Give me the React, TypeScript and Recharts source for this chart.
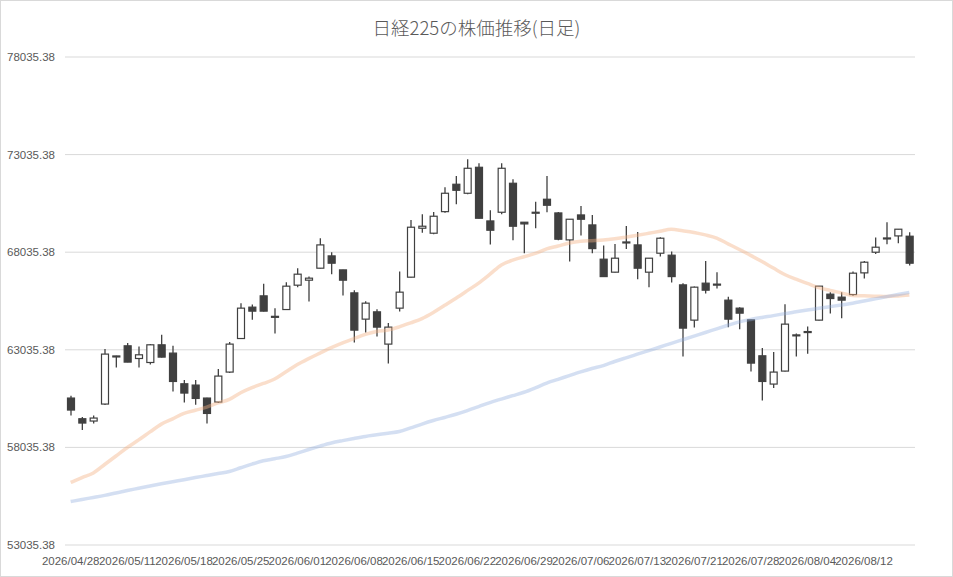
import { ComposedChart, Bar, Line, XAxis, YAxis, CartesianGrid } from 'recharts';

const dates = [
  '2026/04/28', '2026/04/30', '2026/05/01', '2026/05/07', '2026/05/08',
  '2026/05/11', '2026/05/12', '2026/05/13', '2026/05/14', '2026/05/15',
  '2026/05/18', '2026/05/19', '2026/05/20', '2026/05/21', '2026/05/22',
  '2026/05/25', '2026/05/26', '2026/05/27', '2026/05/28', '2026/05/29',
  '2026/06/01', '2026/06/02', '2026/06/03', '2026/06/04', '2026/06/05',
  '2026/06/08', '2026/06/09', '2026/06/10', '2026/06/11', '2026/06/12',
  '2026/06/15', '2026/06/16', '2026/06/17', '2026/06/18', '2026/06/19',
  '2026/06/22', '2026/06/23', '2026/06/24', '2026/06/25', '2026/06/26',
  '2026/06/29', '2026/06/30', '2026/07/01', '2026/07/02', '2026/07/03',
  '2026/07/06', '2026/07/07', '2026/07/08', '2026/07/09', '2026/07/10',
  '2026/07/13', '2026/07/14', '2026/07/15', '2026/07/16', '2026/07/17',
  '2026/07/21', '2026/07/22', '2026/07/23', '2026/07/24', '2026/07/27',
  '2026/07/28', '2026/07/29', '2026/07/30', '2026/07/31', '2026/08/03',
  '2026/08/04', '2026/08/05', '2026/08/06', '2026/08/07', '2026/08/10',
  '2026/08/12', '2026/08/13', '2026/08/14', '2026/08/17', '2026/08/18',
];

const opens = [
  60563, 59504, 59386, 60256, 62720, 63240, 62590, 62385, 63291, 62866,
  61295, 61228, 60563, 60358, 61894, 63613, 65220, 65799, 64750, 65098,
  66346, 66602, 67216, 67846, 67129, 65952, 64606, 64980, 63327, 65169,
  66756, 69264, 69008, 70113, 71516, 71055, 72386, 69637, 70082, 71567,
  69571, 70062, 70748, 70047, 68665, 69944, 69433, 67677, 67012, 68530,
  68409, 67012, 67984, 67882, 66362, 64555, 66449, 66400, 65579, 65169,
  64570, 62728, 61280, 61945, 63770, 63940, 64555, 65886, 65732, 65865,
  66976, 68035, 68740, 68870, 68854,
];

const highs = [
  60681, 59591, 59672, 63071, 62728, 63378, 63204, 63327, 63803, 63240,
  61484, 61484, 60580, 62047, 63429, 65425, 65353, 66413, 65169, 66500,
  67216, 66787, 68752, 68035, 67140, 66090, 65527, 65118, 64402, 67042,
  69688, 69980, 70098, 71362, 71940, 72795, 72590, 70185, 72590, 71771,
  69580, 70625, 71940, 70098, 69730, 70405, 69944, 68373, 68460, 69381,
  69074, 67740, 68803, 68066, 66449, 66275, 67590, 67012, 65748, 65220,
  64580, 63122, 62917, 65374, 63869, 64228, 66310, 65988, 65988, 67042,
  67590, 68783, 69571, 69220, 69059,
];

const lows = [
  59672, 58925, 59263, 60205, 62129, 62400, 62129, 62283, 62640, 60901,
  60338, 60220, 59263, 60307, 61842, 63583, 64570, 65000, 63869, 65090,
  66244, 65507, 67200, 66909, 65814, 63409, 63920, 63716, 62334, 64995,
  66740, 69038, 68957, 70062, 70492, 71004, 69760, 68424, 69980, 68649,
  67984, 69264, 70082, 68649, 67554, 68885, 67984, 66780, 67000, 68204,
  66653, 66244, 67810, 66479, 62692, 64176, 65916, 66172, 64197, 64094,
  61924, 60440, 61075, 61930, 62692, 62830, 64540, 64893, 64657, 65799,
  66684, 67948, 68444, 68496, 67349,
];

const closes = [
  59949, 59283, 59539, 62815, 62690, 62405, 62779, 63291, 62661, 61413,
  60819, 60543, 59775, 61689, 63327, 65169, 65016, 65016, 64730, 66295,
  66909, 66705, 68409, 67472, 66602, 64043, 65425, 64197, 64197, 65988,
  69315, 69366, 69878, 71055, 71208, 72335, 69775, 69161, 72335, 69366,
  69484, 70082, 70441, 68701, 69724, 69724, 68220, 66786, 67728, 68560,
  67216, 67728, 68752, 66786, 64146, 66244, 66090, 66370, 64606, 64913,
  62354, 61413, 61894, 64350, 63800, 63970, 66295, 65661, 65579, 66961,
  67523, 68291, 68765, 69213, 67472,
];

const ma25 = [
  56238, 56484, 56725, 57160, 57595, 58030, 58419, 58828, 59227, 59498,
  59780, 59939, 60102, 60312, 60491, 60834, 61095, 61310, 61541, 61909,
  62278, 62585, 62866, 63142, 63388, 63613, 63823, 63972, 64048, 64212,
  64417, 64637, 64949, 65313, 65681, 66065, 66454, 66909, 67385, 67631,
  67800, 67974, 68204, 68353, 68511, 68598, 68624, 68655, 68721, 68808,
  68900, 69003, 69110, 69207, 69136, 69049, 68921, 68757, 68465, 68173,
  67872, 67554, 67222, 66894, 66653, 66438, 66224, 66080, 65952, 65819,
  65799, 65783, 65763, 65794, 65845,
];

const ma75 = [
  55261, 55368, 55471, 55578, 55701, 55824, 55941, 56059, 56172, 56279,
  56382, 56489, 56591, 56694, 56801, 56991, 57180, 57349, 57456, 57569,
  57743, 57927, 58101, 58260, 58383, 58495, 58598, 58680, 58761, 58848,
  59038, 59232, 59411, 59570, 59734, 59923, 60128, 60333, 60512, 60686,
  60860, 61085, 61331, 61520, 61715, 61904, 62078, 62226, 62436, 62626,
  62810, 62994, 63178, 63368, 63552, 63736, 63920, 64110, 64294, 64468,
  64591, 64693, 64785, 64888, 64980, 65072, 65159, 65246, 65333, 65420,
  65533, 65645, 65758, 65870, 65978,
];

const yTicks = [53035.38, 58035.38, 63035.38, 68035.38, 73035.38, 78035.38];

const data = dates.map((date, i) => ({
  date,
  open: opens[i],
  high: highs[i],
  low: lows[i],
  close: closes[i],
  ma25: ma25[i],
  ma75: ma75[i],
}));

const INK = '#404040';

const Candle = (props: any) => {
  const { x, y, width, height, payload } = props;
  const top = Math.min(y, y + height);
  const bottom = Math.max(y, y + height);
  const span = payload.high - payload.low || 1;
  const toPx = (v: number) => top + ((payload.high - v) / span) * (bottom - top);
  const cx = x + width / 2;
  const yo = toPx(payload.open);
  const yc = toPx(payload.close);
  const up = payload.close >= payload.open;
  const bodyTop = Math.min(yo, yc);
  const bodyH = Math.max(Math.abs(yo - yc), 1);
  return (
    <g>
      <line x1={cx} x2={cx} y1={top} y2={bottom} stroke={INK} strokeWidth={1.3} />
      <rect
        x={x + 0.5}
        y={bodyTop}
        width={width - 1}
        height={bodyH}
        fill={up ? '#ffffff' : INK}
        stroke={INK}
        strokeWidth={1.2}
      />
    </g>
  );
};

const tickStyle = { fontSize: 11.5, fill: '#595959', fontFamily: '"Liberation Sans", Arial, sans-serif' };

export default function App() {
  return (
    <div style={{ position: 'fixed', left: 0, top: 0, width: 953, height: 577, background: '#fff' }}>
      <div
        style={{
          position: 'absolute',
          top: 14,
          left: 0,
          width: 953,
          textAlign: 'center',
          fontSize: 18.5,
          fontWeight: 300,
          color: '#595959',
          fontFamily: '"Noto Sans CJK JP", sans-serif',
        }}
      >
        日経225の株価推移(日足)
      </div>
      <ComposedChart
        width={953}
        height={577}
        data={data}
        margin={{ top: 57, right: 38, bottom: 7, left: 0 }}
      >
        <CartesianGrid vertical={false} stroke="#d9d9d9" strokeWidth={1} />
        <XAxis
          dataKey="date"
          interval={4}
          axisLine={false}
          tickLine={false}
          tickMargin={6}
          height={25}
          tick={tickStyle}
        />
        <YAxis
          domain={[53035.38, 78035.38]}
          ticks={yTicks}
          allowDataOverflow
          axisLine={false}
          tickLine={false}
          width={65}
          tickMargin={4}
          tick={tickStyle}
          tickFormatter={(v: number) => v.toFixed(2)}
        />
        <Bar
          dataKey={(d: any) => [d.low, d.high]}
          barSize={8}
          shape={Candle}
          isAnimationActive={false}
        />
        <Line
          dataKey="ma25"
          type="monotone"
          stroke="#f4b183"
          strokeOpacity={0.42}
          strokeWidth={3.5}
          dot={false}
          activeDot={false}
          isAnimationActive={false}
        />
        <Line
          dataKey="ma75"
          type="monotone"
          stroke="#8faadc"
          strokeOpacity={0.38}
          strokeWidth={3.5}
          dot={false}
          activeDot={false}
          isAnimationActive={false}
        />
      </ComposedChart>
      <div
        style={{
          position: 'absolute',
          inset: 0,
          border: '1px solid #d9d9d9',
          pointerEvents: 'none',
        }}
      />
    </div>
  );
}
